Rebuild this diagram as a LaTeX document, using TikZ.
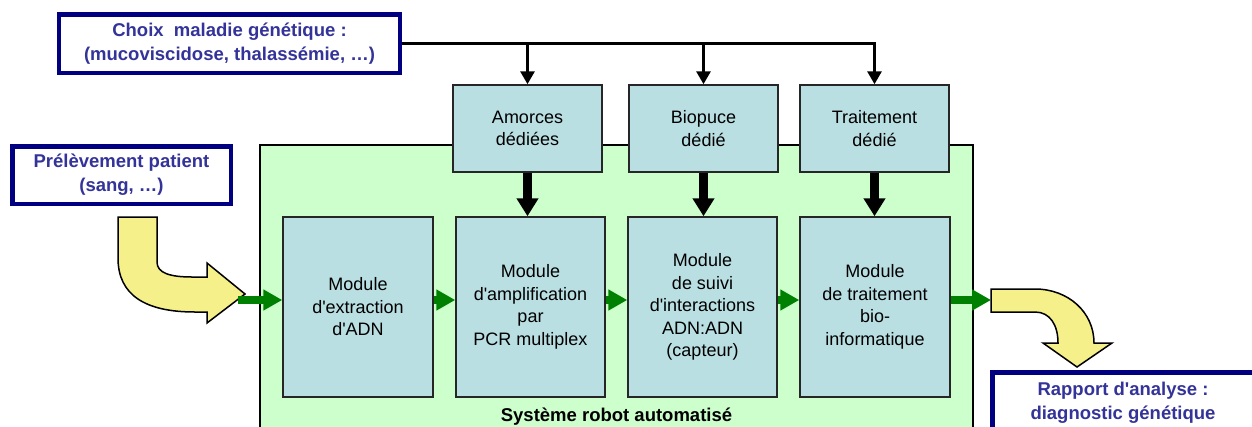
\documentclass[tikz,border=0pt]{standalone}
\usepackage{fontspec}
\setmainfont{Liberation Sans}
\usetikzlibrary{arrows.meta}
\definecolor{navy}{HTML}{000080}
\definecolor{navytext}{HTML}{333399}
\definecolor{boxblue}{HTML}{B9DFE2}
\definecolor{bggreen}{HTML}{CCFFCC}
\definecolor{arrgreen}{HTML}{008000}
\definecolor{yel}{HTML}{F5F08A}
\newcommand{\apos}{\textquotesingle}
\begin{document}
\begin{tikzpicture}[x=1pt,y=-1pt,
  navybox/.style={draw=navy, line width=4.5pt, fill=white, text=navytext,
    font=\fontsize{18.5}{24}\selectfont\bfseries, align=center, inner sep=0pt},
  bluebox/.style={draw=black!85, line width=1.5pt, fill=boxblue, align=center,
    font=\fontsize{18}{22.5}\selectfont, inner sep=0pt},
  feedarrow/.style={line width=3pt, -{Triangle[width=14pt,length=13pt]}},
  bigarrow/.style={line width=9pt, -{Triangle[width=21pt,length=18pt]}},
  greenarrow/.style={line width=8pt, draw=arrgreen, -{Triangle[width=20pt,length=19pt]}},
  yelarrow/.style={draw=black, line width=1.5pt, fill=yel, line join=miter},
]
\useasboundingbox (0,0) rectangle (1252,426);
\clip (0,0) rectangle (1252,426);

% background system
\path[draw=black, fill=bggreen, line width=1.5pt] (260,145) rectangle (973,450);
\node[anchor=base, font=\fontsize{18.5}{22}\selectfont\bfseries] (sys) at (616.5,421) {Système robot automatisé};

% navy boxes
\node[navybox, minimum width=341pt, minimum height=58.5pt] (choix) at (229.5,43.5)
  {Choix\ \ maladie génétique :\\(mucoviscidose, thalassémie, …)};
\node[navybox, minimum width=218.5pt, minimum height=57.5pt] (prel) at (121.5,175)
  {Prélèvement patient\\(sang, …)};
\node[navybox, minimum width=261.5pt, minimum height=61.5pt] (rapport) at (1123,403)
  {Rapport d\apos analyse :\\diagnostic génétique};

% top boxes
\node[bluebox, minimum width=149pt, minimum height=87pt] (amorces) at (527.5,128.5) {Amorces\\dédiées};
\node[bluebox, minimum width=149pt, minimum height=87pt] (biopuce) at (703.5,128.5) {Biopuce\\dédié};
\node[bluebox, minimum width=149pt, minimum height=87pt] (trait) at (874.5,128.5) {Traitement\\dédié};

% modules
\node[bluebox, minimum width=150pt, minimum height=180pt] (mod1) at (358,307) {Module\\d\apos extraction\\d\apos ADN};
\node[bluebox, minimum width=149pt, minimum height=180pt] (mod2) at (530.5,307) {Module\\d\apos amplification\\par\\PCR multiplex};
\node[bluebox, minimum width=149pt, minimum height=180pt] (mod3) at (702.5,307) {Module\\de suivi\\d\apos interactions\\ADN:ADN\\(capteur)};
\node[bluebox, minimum width=150pt, minimum height=180pt] (mod4) at (875,307) {Module\\de traitement\\bio-\\informatique};

% feed lines from choix
\draw[feedarrow] (choix.east) -| (trait.north);
\draw[feedarrow] (choix.east -| amorces.north) -- (amorces.north);
\draw[feedarrow] (choix.east -| biopuce.north) -- (biopuce.north);

% thick arrows
\draw[bigarrow] (amorces.south) -- (amorces.south |- mod2.north);
\draw[bigarrow] (biopuce.south) -- (biopuce.south |- mod3.north);
\draw[bigarrow] (trait.south) -- (trait.south |- mod4.north);

% yellow arrows
\path[yelarrow] (118,217) -- (157,217) -- (157,262)
  .. controls (157,273) and (170,277) .. (192,277) -- (207,277) -- (207,263)
  -- (245,294) -- (207,323) -- (207,312) -- (195,312)
  .. controls (145,312) and (118,295) .. (118,258) -- cycle;
\path[yelarrow] (991,289) -- (1035,289)
  .. controls (1068,289) and (1094,312) .. (1094,343) -- (1112,343)
  -- (1077,367) -- (1043,343) -- (1058,343)
  .. controls (1058,325) and (1050,312) .. (1035,312) -- (991,312) -- cycle;

% green arrows
\coordinate (g0) at (238,300);
\coordinate (g5) at (991,300);
\draw[greenarrow] (g0) -- (g0 -| mod1.west);
\draw[greenarrow] (mod1.east |- g0) -- (mod2.west |- g0);
\draw[greenarrow] (mod2.east |- g0) -- (mod3.west |- g0);
\draw[greenarrow] (mod3.east |- g0) -- (mod4.west |- g0);
\draw[greenarrow] (mod4.east |- g5) -- (g5);
\end{tikzpicture}
\end{document}
